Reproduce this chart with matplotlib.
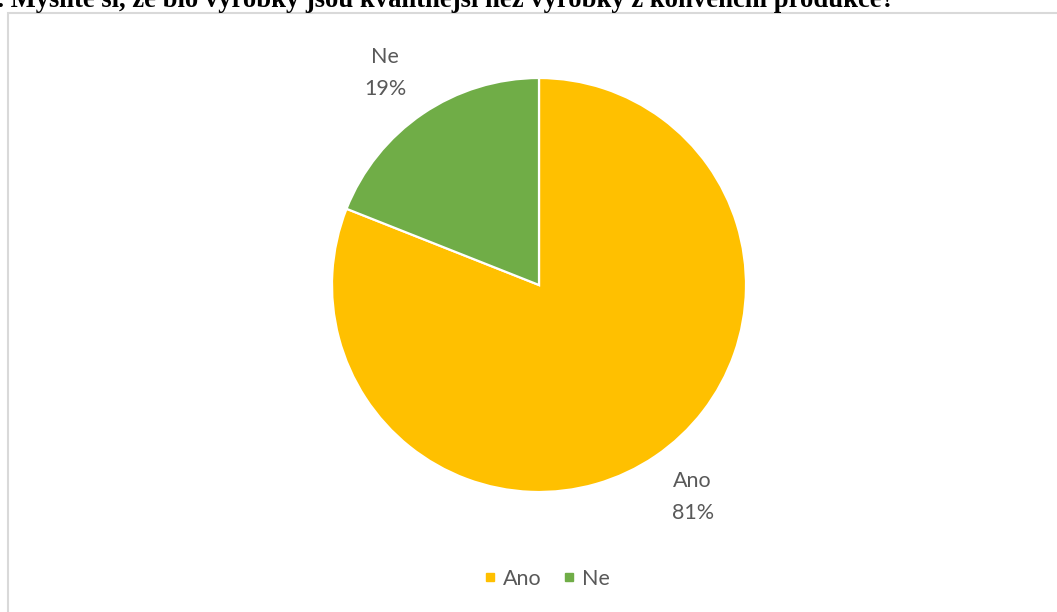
import matplotlib.pyplot as plt
from matplotlib.lines import Line2D
from matplotlib.patches import Rectangle
import numpy as np

labels = ["Ano", "Ne"]
shares = [81, 19]
colors = ["#FFC000", "#70AD47"]
title = "8. Myslíte si, že bio výrobky jsou kvalitnější než výrobky z konvenční produkce?"

W, H = 1057, 612
fig = plt.figure(figsize=(W / 100, H / 100), dpi=100)
fig.patch.set_facecolor("white")

# chart frame, runs off the right and bottom edge
fig.patches.append(Rectangle((8 / W, -0.1), 1.2, 1.1 - 13 / H, transform=fig.transFigure,
                             fill=False, edgecolor="#D9D9D9", lw=1.5))

# question text, cut at the top of the image
fig.text(-16 / W, 1 - 7 / H, title, fontfamily="Liberation Serif", fontweight="bold",
         fontsize=19.2, va="baseline", ha="left", color="black")

cx, cy, r = 539, 285, 207
ax = fig.add_axes([(cx - r) / W, (H - cy - r) / H, 2 * r / W, 2 * r / H])
wedges, _ = ax.pie(shares, colors=colors, startangle=90, counterclock=False,
                   wedgeprops=dict(edgecolor="white", linewidth=1.6))
ax.set_xlim(-1, 1)
ax.set_ylim(-1, 1)
ax.axis("off")

for w, lab, val in zip(wedges, labels, shares):
    mid = np.deg2rad((w.theta1 + w.theta2) / 2)
    ax.text(1.32 * np.cos(mid), 1.24 * np.sin(mid), f"{lab}\n{val}%", ha="center", va="center",
            fontfamily="Lato", fontsize=15.5, color="#595959", linespacing=1.75)

handles = [Line2D([], [], marker="s", ls="", markersize=6, color=c) for c in colors]
fig.legend(handles, labels, loc="center", bbox_to_anchor=(545 / W, 1 - 579 / H), ncol=2,
           frameon=False, prop=dict(family="Lato", size=15.5), labelcolor="#595959",
           handletextpad=0.15, columnspacing=0.8, handlelength=0.9)

fig.savefig("out.png", dpi=100)
